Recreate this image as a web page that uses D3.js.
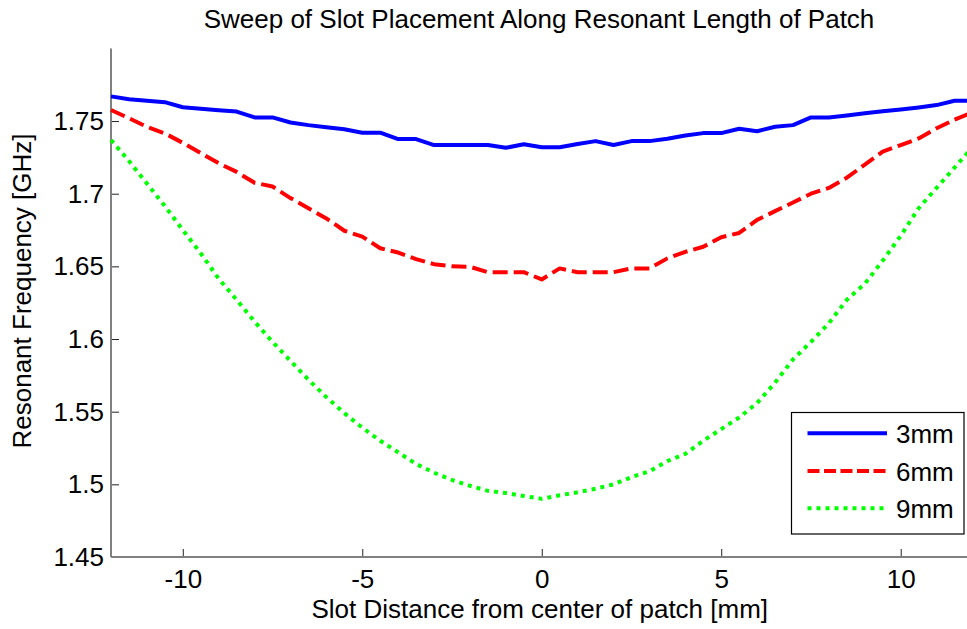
<!DOCTYPE html>
<html>
<head>
<meta charset="utf-8">
<script src="https://cdn.jsdelivr.net/npm/d3@7"></script>
<style>
  html, body { margin: 0; padding: 0; background: #fff; overflow: hidden; }
  text { font-family: "Liberation Sans", Arial, sans-serif; fill: #000; }
</style>
</head>
<body>
<svg id="chart" width="967" height="629"></svg>
<script>
const xValues = [-12,-11.5,-11,-10.5,-10,-9.5,-9,-8.5,-8,-7.5,-7,-6.5,-6,-5.5,-5,-4.5,-4,-3.5,-3,-2.5,-2,-1.5,-1,-0.5,0,0.5,1,1.5,2,2.5,3,3.5,4,4.5,5,5.5,6,6.5,7,7.5,8,8.5,9,9.5,10,10.5,11,11.5,12];
const slot3mm = [1.767,1.765,1.764,1.763,1.7595,1.7585,1.7575,1.7565,1.7525,1.7525,1.749,1.7472,1.7457,1.7443,1.742,1.742,1.7376,1.7376,1.7335,1.7335,1.7335,1.7335,1.7316,1.734,1.732,1.732,1.7342,1.7362,1.7335,1.7362,1.7362,1.7378,1.740,1.7417,1.7417,1.7447,1.743,1.7461,1.7472,1.7525,1.7525,1.7539,1.7553,1.7567,1.758,1.7594,1.761,1.764,1.764];
const slot6mm = [1.7576,1.752,1.746,1.7415,1.735,1.728,1.721,1.715,1.7075,1.705,1.697,1.690,1.683,1.6745,1.6705,1.6625,1.6595,1.655,1.6515,1.650,1.6497,1.646,1.646,1.646,1.641,1.6486,1.646,1.646,1.646,1.6486,1.6486,1.6555,1.660,1.6635,1.670,1.673,1.682,1.688,1.694,1.700,1.704,1.711,1.720,1.729,1.7335,1.738,1.745,1.751,1.756];
const slot9mm = [1.737,1.7225,1.707,1.6915,1.675,1.659,1.6415,1.627,1.612,1.598,1.585,1.572,1.560,1.549,1.539,1.530,1.522,1.514,1.508,1.503,1.499,1.4955,1.494,1.492,1.490,1.4925,1.4945,1.497,1.500,1.505,1.509,1.516,1.521,1.530,1.538,1.546,1.556,1.570,1.586,1.598,1.611,1.627,1.638,1.654,1.671,1.690,1.704,1.718,1.732];
const seriesNames = ["3mm","6mm","9mm"];
const seriesColors = ["#0000ff","#ff0000","#00ff00"];
const seriesDash = [null,"15,6","4,5"];
const xTicks = [-10,-5,0,5,10];
const yTicks = [1.45,1.5,1.55,1.6,1.65,1.7,1.75];
const titleText = "Sweep of Slot Placement Along Resonant Length of Patch";
const xLabel = "Slot Distance from center of patch [mm]";
const yLabel = "Resonant Frequency [GHz]";

(function () {
const svg = d3.select("#chart");
const mLeft = 111, mRight = 972.5, mTop = 48.4, mBottom = 557;
const x = d3.scaleLinear().domain([-12,12]).range([mLeft,mRight]);
const y = d3.scaleLinear().domain([1.45,1.8]).range([mBottom,mTop]);
const FS = 26;

const xAxis = d3.axisBottom(x).tickValues(xTicks).tickSizeInner(-8).tickSizeOuter(0).tickPadding(13)
  .tickFormat(d => String(d));
const gx = svg.append("g").attr("transform", `translate(0,${mBottom})`).call(xAxis);
gx.select(".domain").remove();
gx.selectAll(".tick line").attr("stroke","#222").attr("stroke-width",1);
gx.selectAll(".tick text").attr("font-size",FS).attr("font-family","Liberation Sans, Arial, sans-serif").attr("fill","#000");

const yAxis = d3.axisLeft(y).tickValues(yTicks).tickSizeInner(-8).tickSizeOuter(0).tickPadding(7)
  .tickFormat(d => String(d));
const gy = svg.append("g").attr("transform", `translate(${mLeft},0)`).call(yAxis);
gy.select(".domain").remove();
gy.selectAll(".tick line").attr("stroke","#222").attr("stroke-width",1);
gy.selectAll(".tick text").attr("font-size",FS).attr("font-family","Liberation Sans, Arial, sans-serif").attr("fill","#000");

svg.append("line").attr("x1",mLeft).attr("x2",mLeft).attr("y1",y(1.8)).attr("y2",mBottom)
  .attr("stroke","#808080").attr("stroke-width",2);
svg.append("line").attr("x1",mLeft).attr("x2",mRight).attr("y1",mBottom).attr("y2",mBottom)
  .attr("stroke","#808080").attr("stroke-width",2);

const allSeries = [slot3mm, slot6mm, slot9mm];
const line = d3.line().x((d,i) => x(xValues[i])).y(d => y(d));
allSeries.forEach((vals, k) => {
  const p = svg.append("path").datum(vals).attr("d", line)
    .attr("fill","none").attr("stroke",seriesColors[k]).attr("stroke-width",4)
    .attr("stroke-linejoin","round");
  if (seriesDash[k]) p.attr("stroke-dasharray", seriesDash[k]);
});

svg.append("text").attr("x",539).attr("y",28).attr("text-anchor","middle").attr("font-size",FS).text(titleText);
svg.append("text").attr("x",(mLeft+mRight)/2 - 2).attr("y",618).attr("text-anchor","middle").attr("font-size",FS).text(xLabel);
svg.append("text").attr("transform",`translate(31,${291}) rotate(-90)`).attr("text-anchor","middle").attr("font-size",FS).text(yLabel);

const lg = svg.append("g");
lg.append("rect").attr("x",791.5).attr("y",412.5).attr("width",172.5).attr("height",121.5)
  .attr("fill","#fff").attr("stroke","#000").attr("stroke-width",1.2);
const legendY = [433.3, 471, 508.3];
seriesNames.forEach((n,k) => {
  const l = lg.append("line").attr("x1",807.5).attr("x2",887).attr("y1",legendY[k]).attr("y2",legendY[k])
    .attr("stroke",seriesColors[k]).attr("stroke-width",4);
  if (seriesDash[k]) l.attr("stroke-dasharray", k===1 ? "12,4.5" : "4,5");
  lg.append("text").attr("x",896).attr("y",legendY[k]+10).attr("font-size",FS).text(n);
});
})();
</script>
</body>
</html>
